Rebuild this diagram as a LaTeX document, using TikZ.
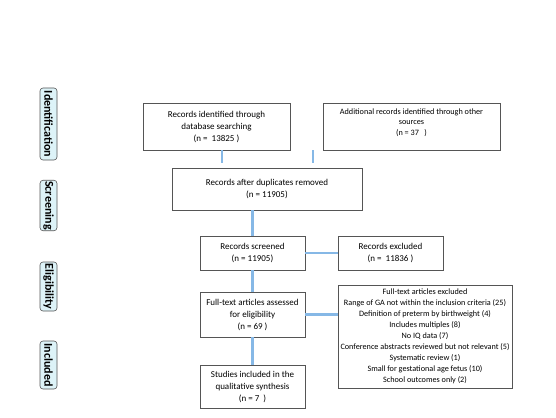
\documentclass[tikz,border=0pt]{standalone}
\usepackage{fontspec}
\setmainfont{Carlito}
\definecolor{linkblue}{HTML}{86B8E6}
\definecolor{phasefill}{HTML}{DDF3F8}
\definecolor{boxline}{HTML}{555555}
\begin{document}
\begin{tikzpicture}[x=1pt,y=-1pt,
 box/.style={draw=boxline, line width=0.7pt, fill=white, align=center,
   font=\fontsize{9}{12}\selectfont, inner sep=2pt},
 listbox/.style={box, font=\fontsize{8.2}{11}\selectfont},
 phase/.style={draw=boxline, line width=0.6pt, rounded corners=3pt, fill=phasefill,
   font=\fontsize{12}{13}\selectfont\bfseries, rotate=-90, minimum height=17pt, inner sep=1pt},
 link/.style={draw=linkblue, line width=2.6pt},
 thinlink/.style={draw=linkblue, line width=2pt}
]
\useasboundingbox (0,0) rectangle (556,417);
\fill[white] (0,0) rectangle (556,417);

% phase labels
\node[phase, minimum width=72pt] (p1) at (48.5,124) {Identification};
\node[phase, minimum width=45pt] (p2) at (48.5,205.5) {Screening};
\node[phase, minimum width=49pt] (p3) at (48.5,286.5) {Eligibility};
\node[phase, minimum width=48pt] (p4) at (48.5,365) {Included};

% boxes
\node[box, minimum width=147pt, minimum height=47pt] (A) at (216.5,126.5)
  {Records identified through\\ database searching\\ (n =\ \ 13825 )};
\node[box, font=\fontsize{8.2}{10.5}\selectfont, minimum width=177pt, minimum height=47pt] (B) at (411.5,126.5)
  {Additional records identified through other\\ sources\\ (n = 37\ \ \ )\\[-1pt]\mbox{}};
\node[box, minimum width=190pt, minimum height=42pt] (C) at (267,189)
  {Records after duplicates removed\\ (n = 11905)};
\node[box, minimum width=105pt, minimum height=34pt] (D) at (252.5,253)
  {Records screened\\ (n = 11905)};
\node[box, minimum width=105pt, minimum height=34pt] (E) at (390.5,253)
  {Records excluded\\ (n =\ \ 11836 )};
\node[box, minimum width=105pt, minimum height=45pt] (F) at (252.5,314.5)
  {Full-text articles assessed\\ for eligibility\\ (n = 69 )};
\node[listbox, minimum width=174pt, minimum height=103pt] (G) at (425,336.5)
  {Full-text articles excluded\\
   Range of GA not within the inclusion criteria (25)\\
   Definition of preterm by birthweight (4)\\
   Includes multiples (8)\\
   No IQ data (7)\\
   Conference abstracts reviewed but not relevant (5)\\
   Systematic review (1)\\
   Small for gestational age fetus (10)\\
   School outcomes only (2)};
\node[box, minimum width=105pt, minimum height=43pt] (H) at (252.5,386.5)
  {Studies included in the\\ qualitative synthesis\\ (n = 7\ \ )};

% connectors
\coordinate (a1) at (222,163);
\coordinate (b1) at (313,163);
\draw[thinlink] (A.south -| a1) -- (a1);
\draw[thinlink] (B.south -| b1) -- (b1);
\draw[link] (C.south -| D.north) -- (D.north);
\draw[link] (D.east) -- (E.west);
\draw[link] (D.south) -- (F.north);
\draw[link] (F.east) -- (F.east -| G.west);
\draw[link] (F.south) -- (H.north);
\end{tikzpicture}
\end{document}
